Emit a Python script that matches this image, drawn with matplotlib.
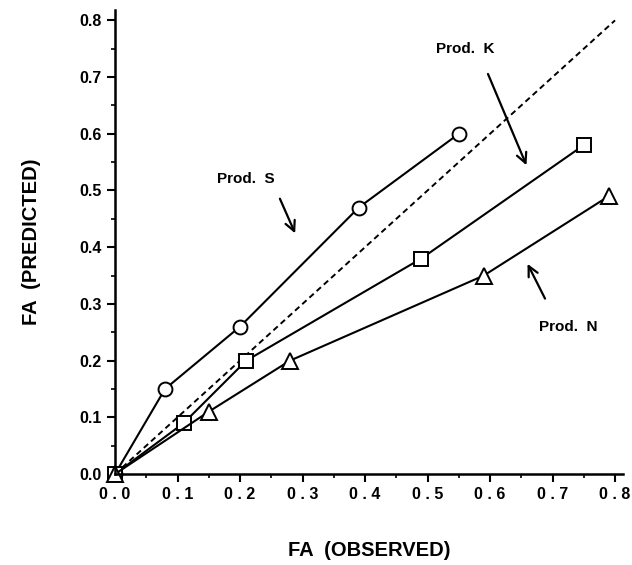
import matplotlib.pyplot as plt
from matplotlib.ticker import MultipleLocator

plt.rcParams['font.family'] = ['Liberation Sans', 'DejaVu Sans']
plt.rcParams['font.weight'] = 'bold'

# observed vs predicted FA for each product
s_obs = [0.0, 0.08, 0.20, 0.39, 0.55]
s_pred = [0.0, 0.15, 0.26, 0.47, 0.60]
k_obs = [0.0, 0.11, 0.21, 0.49, 0.75]
k_pred = [0.0, 0.09, 0.20, 0.38, 0.58]
n_obs = [0.0, 0.15, 0.28, 0.59, 0.79]
n_pred = [0.0, 0.11, 0.20, 0.35, 0.49]
diag = [0.0, 0.8]

ticks = [0.0, 0.1, 0.2, 0.3, 0.4, 0.5, 0.6, 0.7, 0.8]
xtick_labels = ['0 . 0', '0 . 1', '0 . 2', '0 . 3', '0 . 4', '0 . 5', '0 . 6', '0 . 7', '0 . 8']
ytick_labels = ['0.0', '0.1', '0.2', '0.3', '0.4', '0.5', '0.6', '0.7', '0.8']

fig = plt.figure(figsize=(6.32, 5.65), dpi=100)
ax = fig.add_axes([0.182, 0.161, 0.804, 0.821])

ax.plot(diag, diag, color='black', lw=1.4, ls=(0, (3, 2)))
mk = dict(color='black', lw=1.5, markerfacecolor='white',
          markeredgecolor='black', markeredgewidth=1.4, clip_on=False)
ax.plot(s_obs, s_pred, marker='o', markersize=10, **mk)
ax.plot(k_obs, k_pred, marker='s', markersize=10, **mk)
ax.plot(n_obs, n_pred, marker='^', markersize=11, **mk)

ax.set_xlim(0, 0.813)
ax.set_ylim(0, 0.818)
ax.set_xticks(ticks)
ax.set_xticklabels(xtick_labels)
ax.set_yticks(ticks)
ax.set_yticklabels(ytick_labels)
ax.xaxis.set_minor_locator(MultipleLocator(0.05))
ax.yaxis.set_minor_locator(MultipleLocator(0.05))
ax.tick_params(which='major', direction='out', length=6, width=1.5, labelsize=11.5)
ax.tick_params(which='minor', direction='out', length=3, width=1.2)
for sp in ['top', 'right']:
    ax.spines[sp].set_visible(False)
for sp in ['left', 'bottom']:
    ax.spines[sp].set_linewidth(1.8)

ax.set_xlabel('FA  (OBSERVED)', fontsize=14.5, fontweight='bold', labelpad=28)
ax.set_ylabel('FA  (PREDICTED)', fontsize=14.5, fontweight='bold', labelpad=28)

arrow = dict(arrowstyle='->', color='black', lw=1.6, mutation_scale=18)
ax.annotate('Prod.  S', xy=(0.29, 0.42), xytext=(0.21, 0.52),
            fontsize=11, fontweight='bold', ha='center', va='center')
ax.annotate('', xy=(0.29, 0.42), xytext=(0.262, 0.49), arrowprops=arrow)
ax.annotate('Prod.  K', xy=(0.66, 0.54), xytext=(0.56, 0.75),
            fontsize=11, fontweight='bold', ha='center', va='center')
ax.annotate('', xy=(0.66, 0.54), xytext=(0.595, 0.71), arrowprops=arrow)
ax.annotate('Prod.  N', xy=(0.66, 0.37), xytext=(0.725, 0.26),
            fontsize=11, fontweight='bold', ha='center', va='center')
ax.annotate('', xy=(0.658, 0.375), xytext=(0.69, 0.305), arrowprops=arrow)

fig.savefig('out.png', dpi=100)
